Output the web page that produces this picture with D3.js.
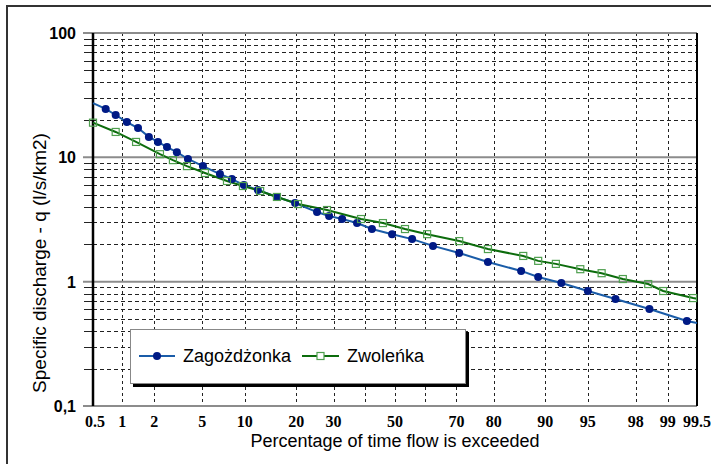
<!DOCTYPE html>
<html>
<head>
<meta charset="utf-8">
<script src="https://cdn.jsdelivr.net/npm/d3@7"></script>
<style>
  body { margin: 0; background: #fff; }
</style>
</head>
<body>
<script>
// flow duration curves, probability x scale, log y scale
var zagPct = [0.5, 0.68, 0.86, 1.11, 1.42, 1.79, 2.16, 2.59, 3.14, 3.87, 5.07, 6.77, 8.21, 9.88, 12.1, 15.7, 19.7, 25.3, 28.7, 32.6, 37.3, 42.2, 49.0, 55.8, 62.7, 70.8, 78.6, 85.9, 88.9, 92.2, 95.0, 97.0, 98.5, 99.36, 99.5];
var zagQ   = [27.3, 24.5, 21.9, 19.2, 17.2, 14.6, 13.3, 12.1, 11.0, 9.7, 8.5, 7.34, 6.68, 5.98, 5.46, 4.80, 4.29, 3.63, 3.37, 3.19, 2.96, 2.65, 2.41, 2.20, 1.94, 1.70, 1.44, 1.22, 1.09, 0.975, 0.841, 0.725, 0.603, 0.482, 0.465];

var zwoPct = [0.5, 0.86, 1.36, 2.25, 2.91, 3.80, 5.25, 7.59, 9.73, 12.5, 15.7, 20.4, 28.1, 38.6, 45.9, 53.4, 60.8, 70.8, 78.6, 86.3, 88.9, 91.5, 94.3, 96.1, 97.4, 98.46, 98.89, 99.45, 99.5];
var zwoQ   = [19.0, 16.0, 13.3, 10.6, 9.5, 8.5, 7.48, 6.45, 5.88, 5.36, 4.80, 4.21, 3.77, 3.19, 2.96, 2.65, 2.41, 2.12, 1.83, 1.61, 1.47, 1.39, 1.26, 1.17, 1.05, 0.957, 0.841, 0.738, 0.73];

var seriesNames = ["Zagożdżonka", "Zwoleńka"];

var xTickVals = [0.5, 1, 2, 5, 10, 20, 30, 50, 70, 80, 90, 95, 98, 99, 99.5];
var xGridVals = [1, 2, 5, 10, 20, 30, 40, 50, 60, 70, 80, 90, 95, 98, 99];
var yTickVals = [0.1, 1, 10, 100];
var yTickLabels = ["0,1", "1", "10", "100"];

// inverse normal cdf (Acklam)
function probit(p) {
  var a = [-3.969683028665376e+01, 2.209460984245205e+02, -2.759285104469687e+02, 1.383577518672690e+02, -3.066479806614716e+01, 2.506628277459239e+00];
  var b = [-5.447609879822406e+01, 1.615858368580409e+02, -1.556989798598866e+02, 6.680131188771972e+01, -1.328068155288572e+01];
  var c = [-7.784894002430293e-03, -3.223964580411365e-01, -2.400758277161838e+00, -2.549732539343734e+00, 4.374664141464968e+00, 2.938163982698783e+00];
  var d = [7.784695709041462e-03, 3.224671290700398e-01, 2.445134137142996e+00, 3.754408661907416e+00];
  var plow = 0.02425, q, r;
  if (p < plow) {
    q = Math.sqrt(-2 * Math.log(p));
    return (((((c[0]*q+c[1])*q+c[2])*q+c[3])*q+c[4])*q+c[5]) / ((((d[0]*q+d[1])*q+d[2])*q+d[3])*q+1);
  } else if (p <= 1 - plow) {
    q = p - 0.5; r = q * q;
    return (((((a[0]*r+a[1])*r+a[2])*r+a[3])*r+a[4])*r+a[5])*q / (((((b[0]*r+b[1])*r+b[2])*r+b[3])*r+b[4])*r+1);
  }
  q = Math.sqrt(-2 * Math.log(1 - p));
  return -(((((c[0]*q+c[1])*q+c[2])*q+c[3])*q+c[4])*q+c[5]) / ((((d[0]*q+d[1])*q+d[2])*q+d[3])*q+1);
}

var w = 711, h = 464;
var pLeft = 93, pRight = 697, pTop = 33, pBottom = 406;

var zScale = d3.scaleLinear()
    .domain([probit(0.005), probit(0.995)])
    .range([pLeft, pRight]);
function x(p) { return zScale(probit(p / 100)); }

var y = d3.scaleLog().domain([0.1, 100]).range([pBottom, pTop]);

var svg = d3.select("body")
            .append("svg")
            .attr("width", w)
            .attr("height", h);

// outer frame
svg.append("path")
   .attr("d", "M7,464 L7,6 L711,6")
   .attr("fill", "none")
   .attr("stroke", "#333")
   .attr("stroke-width", 2);

// minor log values
var minorVals = [];
[0.1, 1, 10].forEach(function(dec) {
  for (var k = 2; k <= 9; k++) minorVals.push(dec * k);
});

// horizontal dashed grid + left ticks
svg.selectAll("line.hgrid")
   .data(minorVals)
   .enter()
   .append("line")
   .attr("x1", pLeft).attr("x2", pRight)
   .attr("y1", function(d) { return Math.round(y(d)) + 0.5; })
   .attr("y2", function(d) { return Math.round(y(d)) + 0.5; })
   .attr("stroke", "#222")
   .attr("stroke-width", 1)
   .attr("stroke-dasharray", "4,3");

svg.selectAll("line.ytick")
   .data(minorVals)
   .enter()
   .append("line")
   .attr("x1", pLeft - 9).attr("x2", pLeft)
   .attr("y1", function(d) { return Math.round(y(d)) + 0.5; })
   .attr("y2", function(d) { return Math.round(y(d)) + 0.5; })
   .attr("stroke", "#222")
   .attr("stroke-width", 1);

// vertical dashed grid
svg.selectAll("line.vgrid")
   .data(xGridVals)
   .enter()
   .append("line")
   .attr("x1", function(d) { return Math.round(x(d)) + 0.5; })
   .attr("x2", function(d) { return Math.round(x(d)) + 0.5; })
   .attr("y1", pTop).attr("y2", pBottom)
   .attr("stroke", "#222")
   .attr("stroke-width", 1)
   .attr("stroke-dasharray", "3,3");

// decade lines (gray solid)
svg.selectAll("line.decade")
   .data(yTickVals)
   .enter()
   .append("line")
   .attr("x1", pLeft - 10).attr("x2", pRight)
   .attr("y1", function(d) { return y(d); })
   .attr("y2", function(d) { return y(d); })
   .attr("stroke", "#8c8c8c")
   .attr("stroke-width", 2);

// y axis and right edge
svg.append("line")
   .attr("x1", pLeft).attr("x2", pLeft)
   .attr("y1", pTop).attr("y2", pBottom)
   .attr("stroke", "#000").attr("stroke-width", 2.5);
svg.append("line")
   .attr("x1", pRight).attr("x2", pRight)
   .attr("y1", pTop).attr("y2", pBottom)
   .attr("stroke", "#000").attr("stroke-width", 2);

// y tick labels
svg.selectAll("text.ylab")
   .data(yTickVals)
   .enter()
   .append("text")
   .text(function(d, i) { return yTickLabels[i]; })
   .attr("x", 76)
   .attr("y", function(d) { return y(d) + 6; })
   .attr("text-anchor", "end")
   .attr("font-family", "Liberation Sans, Arial, sans-serif")
   .attr("font-weight", "bold")
   .attr("font-size", "16px")
   .attr("fill", "#000");

// x tick labels
svg.selectAll("text.xlab")
   .data(xTickVals)
   .enter()
   .append("text")
   .text(function(d) { return d; })
   .attr("x", function(d) { return d == 0.5 ? x(d) + 2 : x(d); })
   .attr("y", 427)
   .attr("text-anchor", "middle")
   .attr("font-family", "Liberation Serif, Times New Roman, serif")
   .attr("font-weight", "bold")
   .attr("font-size", "16px")
   .attr("fill", "#000");

// axis titles
svg.append("text")
   .text("Percentage of time flow is exceeded")
   .attr("x", 395).attr("y", 447)
   .attr("text-anchor", "middle")
   .attr("font-family", "Liberation Sans, Arial, sans-serif")
   .attr("font-size", "18px");

svg.append("text")
   .text("Specific discharge - q (l/s/km2)")
   .attr("transform", "translate(46,263) rotate(-90)")
   .attr("text-anchor", "middle")
   .attr("font-family", "Liberation Sans, Arial, sans-serif")
   .attr("font-size", "19px");

// series
var zag = zagPct.map(function(p, i) { return [p, zagQ[i]]; });
var zwo = zwoPct.map(function(p, i) { return [p, zwoQ[i]]; });

var line = d3.line()
    .x(function(d) { return x(d[0]); })
    .y(function(d) { return y(d[1]); });

svg.append("path")
   .datum(zag)
   .attr("d", line)
   .attr("fill", "none")
   .attr("stroke", "#1a5ca8")
   .attr("stroke-width", 2);

svg.append("path")
   .datum(zwo)
   .attr("d", line)
   .attr("fill", "none")
   .attr("stroke", "#0c6c0c")
   .attr("stroke-width", 2);

// markers (curve end points at the plot edges have none)
svg.selectAll("circle.zag")
   .data(zag.slice(1, zag.length - 1))
   .enter()
   .append("circle")
   .attr("cx", function(d) { return x(d[0]); })
   .attr("cy", function(d) { return y(d[1]); })
   .attr("r", 4)
   .attr("fill", "#001a85");

svg.selectAll("rect.zwo")
   .data(zwo.slice(0, zwo.length - 1))
   .enter()
   .append("rect")
   .attr("x", function(d) { return x(d[0]) - 3.5; })
   .attr("y", function(d) { return y(d[1]) - 3.5; })
   .attr("width", 7)
   .attr("height", 7)
   .attr("fill", "none")
   .attr("stroke", "#4f9f4f")
   .attr("stroke-width", 1.2);

// legend
var lg = svg.append("g");
lg.append("rect")
  .attr("x", 133).attr("y", 332)
  .attr("width", 336).attr("height", 55)
  .attr("fill", "#000");
lg.append("rect")
  .attr("x", 130.5).attr("y", 329.5)
  .attr("width", 335).attr("height", 54)
  .attr("fill", "#fff")
  .attr("stroke", "#888")
  .attr("stroke-width", 1);

lg.append("line")
  .attr("x1", 139).attr("x2", 175).attr("y1", 356).attr("y2", 356)
  .attr("stroke", "#1a5ca8").attr("stroke-width", 2);
lg.append("circle")
  .attr("cx", 157).attr("cy", 356).attr("r", 4)
  .attr("fill", "#001a85");
lg.append("text")
  .text(seriesNames[0])
  .attr("x", 183).attr("y", 362)
  .attr("font-family", "Liberation Sans, Arial, sans-serif")
  .attr("font-size", "18px");

lg.append("line")
  .attr("x1", 302).attr("x2", 339).attr("y1", 356).attr("y2", 356)
  .attr("stroke", "#0c6c0c").attr("stroke-width", 2);
lg.append("rect")
  .attr("x", 317).attr("y", 352.5).attr("width", 7).attr("height", 7)
  .attr("fill", "#fff")
  .attr("stroke", "#4f9f4f").attr("stroke-width", 1.2);
lg.append("text")
  .text(seriesNames[1])
  .attr("x", 347).attr("y", 362)
  .attr("font-family", "Liberation Sans, Arial, sans-serif")
  .attr("font-size", "18px");
</script>
</body>
</html>
